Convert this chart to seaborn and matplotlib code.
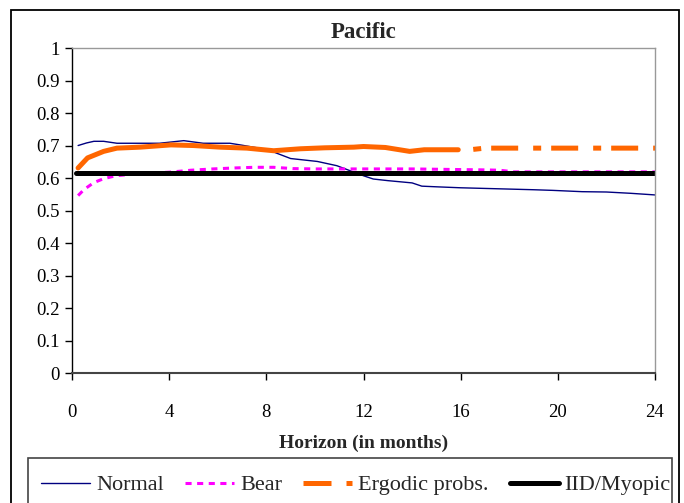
import numpy as np
import pandas as pd
import matplotlib
matplotlib.use('Agg')
import matplotlib.pyplot as plt
from matplotlib.lines import Line2D
from matplotlib.patches import Rectangle
import seaborn as sns

sns.set_theme(style="white")
plt.rcParams['font.family'] = ['Liberation Serif', 'DejaVu Serif']

# --- data (horizon in months) ---
normal_x = [0.25, 0.6, 0.9, 1.3, 1.85, 2.8, 3.6, 4.6, 5.4, 6.5, 7.0, 7.7, 8.3,
            9.0, 10.1, 10.9, 11.5, 12.0, 12.4, 13.0, 14.0, 14.4, 15.0, 16.0,
            17.0, 18.0, 19.0, 19.8, 21.0, 22.0, 23.0, 24.0]
normal_y = [0.700, 0.708, 0.713, 0.713, 0.707, 0.707, 0.707, 0.715, 0.707,
            0.707, 0.701, 0.692, 0.680, 0.660, 0.651, 0.638, 0.621, 0.607,
            0.597, 0.592, 0.585, 0.575, 0.573, 0.570, 0.568, 0.566, 0.564,
            0.562, 0.558, 0.557, 0.553, 0.548]

bear_x = [0.25, 0.5, 0.9, 1.3, 1.8, 2.5, 3.0, 4.0, 4.9, 5.8, 6.7, 7.5, 8.3,
          9.1, 10.0, 12.0, 14.0, 16.0, 17.0, 17.6, 18.2, 24.0]
bear_y = [0.546, 0.565, 0.586, 0.598, 0.607, 0.612, 0.614, 0.618, 0.624,
          0.628, 0.631, 0.633, 0.633, 0.629, 0.628, 0.628, 0.628, 0.626,
          0.625, 0.624, 0.619, 0.619]

ergodic_x = [0.25, 0.64, 1.3, 1.85, 2.8, 4.07, 5.0, 6.1, 7.2, 8.3, 9.4, 10.4,
             11.6, 12.0, 12.9, 13.9, 14.5, 15.9, 16.5, 17.0, 24.0]
ergodic_y = [0.631, 0.662, 0.682, 0.692, 0.695, 0.702, 0.700, 0.695, 0.692,
             0.684, 0.690, 0.693, 0.695, 0.697, 0.694, 0.682, 0.687, 0.687,
             0.688, 0.692, 0.692]
ergodic_solid_end = 15.9

iid_x = [0.15, 24.0]
iid_y = [0.615, 0.615]

xticks = [0, 4, 8, 12, 16, 20, 24]
yticks = [0, 0.1, 0.2, 0.3, 0.4, 0.5, 0.6, 0.7, 0.8, 0.9, 1]
ytick_labels = ['0', '0.1', '0.2', '0.3', '0.4', '0.5', '0.6', '0.7',
                '0.8', '0.9', '1']
series_names = ['Normal', 'Bear', 'Ergodic probs.', 'IID/Myopic']

c_normal = '#000080'
c_bear = '#ff00ff'
c_ergodic = '#ff6600'
c_iid = '#000000'

normal = pd.DataFrame({'h': normal_x, 'v': normal_y})
bear = pd.DataFrame({'h': bear_x, 'v': bear_y})
erg = pd.DataFrame({'h': ergodic_x, 'v': ergodic_y})
erg_solid = erg[erg['h'] <= ergodic_solid_end]
erg_dash = erg[erg['h'] >= ergodic_solid_end]
iid = pd.DataFrame({'h': iid_x, 'v': iid_y})

fig = plt.figure(figsize=(6.84, 5.03), dpi=100)
ax = fig.add_axes([0.1053, 0.2584, 0.8523, 0.6461])

bear_ls = (0, (2.0, 1.8))
erg_ls = (5.4, (5.4, 3.0, 1.6, 2.0))

sns.lineplot(data=normal, x='h', y='v', ax=ax, color=c_normal, lw=1.0)
sns.lineplot(data=bear, x='h', y='v', ax=ax, color=c_bear, lw=2.2,
             linestyle=bear_ls)
sns.lineplot(data=erg_solid, x='h', y='v', ax=ax, color=c_ergodic, lw=3.6)
sns.lineplot(data=erg_dash, x='h', y='v', ax=ax, color=c_ergodic, lw=3.6,
             linestyle=erg_ls)
sns.lineplot(data=iid, x='h', y='v', ax=ax, color=c_iid, lw=3.6)

ax.set_xlim(0, 24)
ax.set_ylim(0, 1)
ax.set_xticks(xticks)
ax.set_yticks(yticks)
ax.set_yticklabels(ytick_labels)
ax.tick_params(axis='both', direction='out', length=5, width=1,
               labelsize=13.5, colors='#000000', bottom=True, left=True)
ax.tick_params(axis='x', pad=17)
ax.tick_params(axis='y', pad=4)

for side in ['top', 'right']:
    ax.spines[side].set_color('#999999')
    ax.spines[side].set_linewidth(1.0)
ax.spines['left'].set_color('#000000')
ax.spines['left'].set_linewidth(1.0)
ax.spines['bottom'].set_color('#444444')
ax.spines['bottom'].set_linewidth(1.5)

ax.set_title('Pacific', fontsize=16.5, fontweight='bold', pad=7)
ax.set_xlabel('Horizon (in months)', fontsize=14, fontweight='bold',
              labelpad=10)
ax.set_ylabel('')

# outer chart border and legend box
fig.patches.append(Rectangle((11 / 684, -0.05), 668 / 684, 1.04 - 5 / 503,
                             transform=fig.transFigure, fill=False,
                             edgecolor='black', lw=1.3))
fig.patches.append(Rectangle((28 / 684, -0.05), 644 / 684, 0.05 + 45 / 503,
                             transform=fig.transFigure, fill=False,
                             edgecolor='#444444', lw=1.2))

handles = [
    Line2D([], [], color=c_normal, lw=1.0),
    Line2D([], [], color=c_bear, lw=2.2, linestyle=bear_ls),
    Line2D([], [], color=c_ergodic, lw=3.6, linestyle=(0, (5.6, 3.0, 1.4, 2.0))),
    Line2D([], [], color=c_iid, lw=3.6),
]
fig.legend(handles, series_names, loc='center',
           bbox_to_anchor=(356 / 684, 1 - 485 / 503),
           ncol=4, frameon=False, fontsize=16, handlelength=2.2,
           handletextpad=0.27, columnspacing=0.95)

fig.savefig('out.png', dpi=100)
